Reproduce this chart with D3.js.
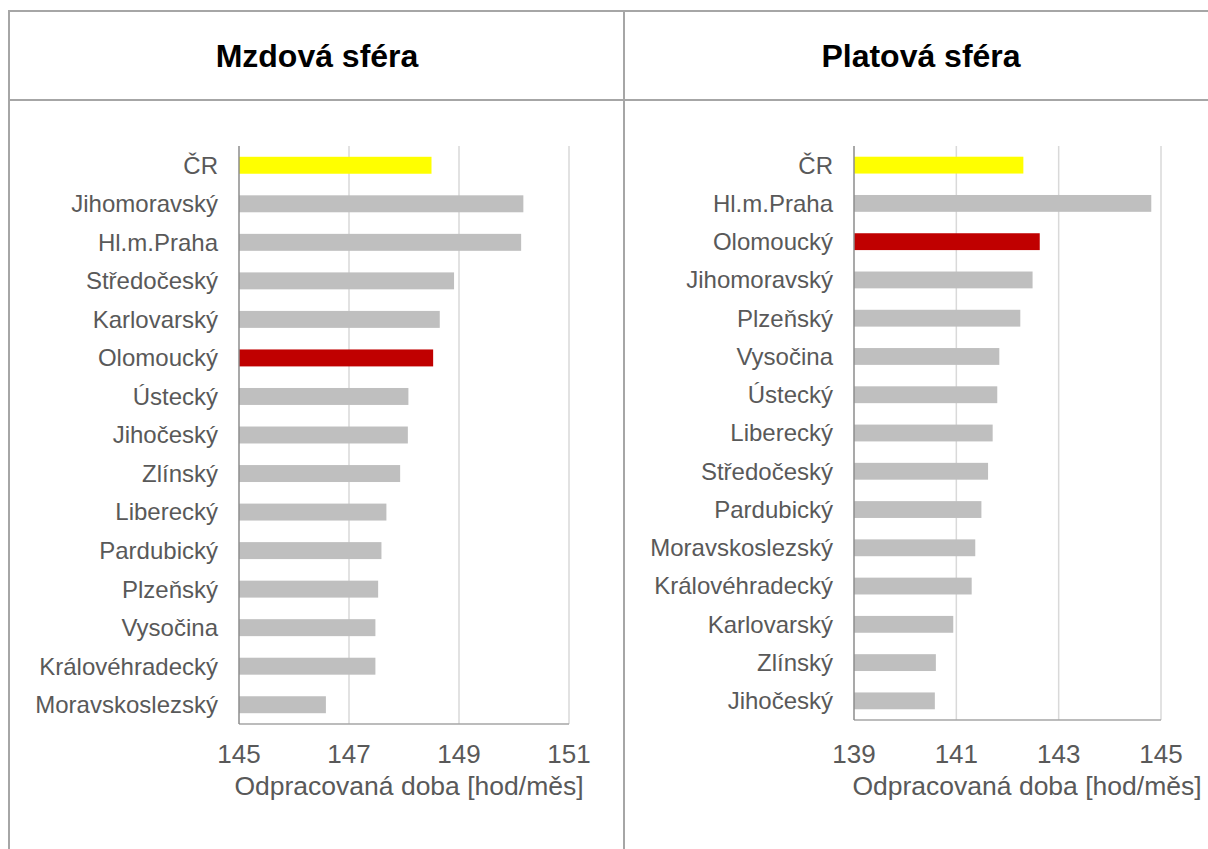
<!DOCTYPE html>
<html>
<head>
<meta charset="utf-8">
<title>Odpracovaná doba</title>
<style>
body { margin: 0; background: #fff; }
svg { display: block; font-family: "Liberation Sans", Arial, sans-serif; }
.frame { stroke: #a6a6a6; stroke-width: 2px; fill: none; }
.grid line { stroke: #d9d9d9; stroke-width: 1.5px; }
.cat { fill: #595959; font-size: 24px; }
.tick-label { fill: #595959; font-size: 26px; }
.axis-title { fill: #595959; font-size: 26.5px; }
.panel-title { fill: #000; font-size: 32px; font-weight: bold; }
</style>
</head>
<body>
<script src="https://cdn.jsdelivr.net/npm/d3@7"></script>
<script>

// Mzdová sféra
var mzdCategories = ["ČR", "Jihomoravský", "Hl.m.Praha", "Středočeský", "Karlovarský", "Olomoucký",
  "Ústecký", "Jihočeský", "Zlínský", "Liberecký", "Pardubický", "Plzeňský", "Vysočina",
  "Královéhradecký", "Moravskoslezský"];
var mzdValues = [148.50, 150.17, 150.13, 148.91, 148.65, 148.53, 148.08, 148.07, 147.93,
  147.68, 147.59, 147.53, 147.48, 147.48, 146.58];
var mzdTicks = [145, 147, 149, 151];

// Platová sféra
var platCategories = ["ČR", "Hl.m.Praha", "Olomoucký", "Jihomoravský", "Plzeňský", "Vysočina",
  "Ústecký", "Liberecký", "Středočeský", "Pardubický", "Moravskoslezský", "Královéhradecký",
  "Karlovarský", "Zlínský", "Jihočeský"];
var platValues = [142.31, 144.81, 142.63, 142.49, 142.25, 141.84, 141.80, 141.71, 141.62,
  141.49, 141.37, 141.30, 140.94, 140.60, 140.58];
var platTicks = [139, 141, 143, 145];

var axisTitle = "Odpracovaná doba [hod/měs]";

var width = 1208, height = 849;

var svg = d3.select("body").append("svg")
    .attr("width", width)
    .attr("height", height);

// table frame
svg.append("line").attr("class", "frame").attr("x1", 8).attr("x2", width).attr("y1", 11).attr("y2", 11);
svg.append("line").attr("class", "frame").attr("x1", 8).attr("x2", width).attr("y1", 100).attr("y2", 100);
svg.append("line").attr("class", "frame").attr("x1", 9).attr("x2", 9).attr("y1", 10).attr("y2", height);
svg.append("line").attr("class", "frame").attr("x1", 624).attr("x2", 624).attr("y1", 10).attr("y2", height);

function barColor(name) {
  if (name == "ČR") return "#ffff00";
  if (name == "Olomoucký") return "#c00000";
  return "#bfbfbf";
}

function drawPanel(opt) {
  var g = svg.append("g");

  g.append("text")
      .attr("class", "panel-title")
      .attr("x", opt.titleX)
      .attr("y", 67)
      .attr("text-anchor", "middle")
      .text(opt.title);

  var x = d3.scaleLinear()
      .domain([opt.ticks[0], opt.ticks[opt.ticks.length - 1]])
      .range([opt.left, opt.right]);

  var y = d3.scaleBand()
      .domain(opt.categories)
      .range([opt.top, opt.bottom])
      .paddingInner(0.56)
      .paddingOuter(0.28);

  // gridlines
  g.append("g").attr("class", "grid")
    .selectAll("line")
    .data(opt.ticks.slice(1))
    .enter().append("line")
      .attr("x1", function(d) { return x(d); })
      .attr("x2", function(d) { return x(d); })
      .attr("y1", opt.top)
      .attr("y2", opt.bottom);

  // bars
  g.selectAll("rect.bar")
    .data(opt.categories)
    .enter().append("rect")
      .attr("class", "bar")
      .attr("x", x(opt.ticks[0]))
      .attr("y", function(d) { return y(d); })
      .attr("width", function(d, i) { return x(opt.values[i]) - x(opt.ticks[0]); })
      .attr("height", y.bandwidth())
      .style("fill", function(d) { return barColor(d); });

  // axes lines
  g.append("line")
      .attr("x1", opt.left).attr("x2", opt.right)
      .attr("y1", opt.bottom).attr("y2", opt.bottom)
      .style("stroke", "#a6a6a6").style("stroke-width", 1.5);
  g.append("line")
      .attr("x1", opt.left).attr("x2", opt.left)
      .attr("y1", opt.top).attr("y2", opt.bottom)
      .style("stroke", "#8c8c8c").style("stroke-width", 1.5);

  // category labels
  g.selectAll("text.cat")
    .data(opt.categories)
    .enter().append("text")
      .attr("class", "cat")
      .attr("x", opt.left - 21)
      .attr("y", function(d) { return y(d) + y.bandwidth() / 2; })
      .attr("dy", "0.35em")
      .attr("text-anchor", "end")
      .text(function(d) { return d; });

  // tick labels
  g.selectAll("text.tick-label")
    .data(opt.ticks)
    .enter().append("text")
      .attr("class", "tick-label")
      .attr("x", function(d) { return x(d); })
      .attr("y", 763)
      .attr("text-anchor", "middle")
      .text(function(d) { return d; });

  g.append("text")
      .attr("class", "axis-title")
      .attr("x", opt.axisTitleX)
      .attr("y", 795)
      .attr("text-anchor", "middle")
      .text(axisTitle);
}

drawPanel({
  title: "Mzdová sféra", titleX: 317,
  categories: mzdCategories, values: mzdValues, ticks: mzdTicks,
  left: 239, right: 569, top: 146, bottom: 724,
  axisTitleX: 409
});

drawPanel({
  title: "Platová sféra", titleX: 921,
  categories: platCategories, values: platValues, ticks: platTicks,
  left: 854, right: 1161, top: 146, bottom: 720,
  axisTitleX: 1027
});

</script>
</body>
</html>
